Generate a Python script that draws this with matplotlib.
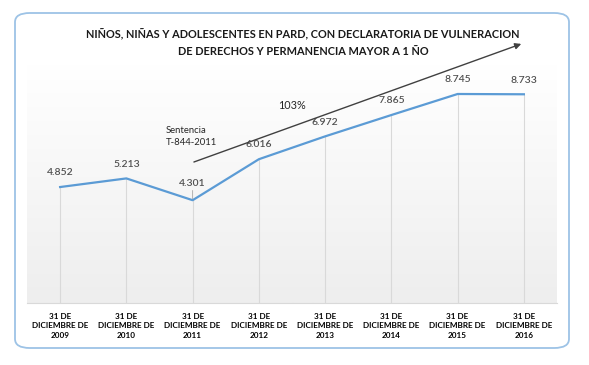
import numpy as np
import matplotlib.pyplot as plt
from matplotlib.colors import LinearSegmentedColormap
from matplotlib.patches import FancyBboxPatch

plt.rcParams['font.family'] = ['Lato', 'DejaVu Sans']

# data
years = ['2009', '2010', '2011', '2012', '2013', '2014', '2015', '2016']
values = [4852, 5213, 4301, 6016, 6972, 7865, 8745, 8733]
value_labels = ['4.852', '5.213', '4.301', '6.016', '6.972', '7.865', '8.745', '8.733']
tick_labels = ['31 DE\nDICIEMBRE DE\n' + y for y in years]

title = ('NIÑOS, NIÑAS Y ADOLESCENTES EN PARD, CON DECLARATORIA DE VULNERACION\n'
         'DE DERECHOS Y PERMANENCIA MAYOR A 1 ÑO')

fig = plt.figure(figsize=(5.89, 3.65), dpi=100)

# rounded frame around the whole chart
frame = FancyBboxPatch((15 / 589, 1 - 348 / 365), (569 - 15) / 589, (348 - 13) / 365,
                       boxstyle='round,pad=0,rounding_size=0.025',
                       transform=fig.transFigure, fill=False,
                       edgecolor='#9dc3e6', linewidth=1.3)
fig.patches.append(frame)

ax = fig.add_axes([27 / 589, 1 - 303 / 365, 530 / 589, 239 / 365])
x = np.arange(len(values))
ax.set_xlim(-0.5, len(values) - 0.5)
ax.set_ylim(0, 10000)

# soft gradient background (light gray bottom -> white top)
grad = np.linspace(0, 1, 100).reshape(-1, 1)
cmap = LinearSegmentedColormap.from_list('g', ['#eeeeee', '#ffffff'])
ax.imshow(grad, extent=(-0.5, len(values) - 0.5, 0, 10000), aspect='auto',
          cmap=cmap, zorder=0, origin='lower')

# drop lines
ax.vlines(x, 0, values, color='#d9d9d9', linewidth=0.8, zorder=1)
ax.plot(x, values, color='#5b9bd5', linewidth=1.6, zorder=3)

for i, (v, lab) in enumerate(zip(values, value_labels)):
    if i == 2:
        # label sits a bit higher with a small leader line, as in the original
        ax.annotate(lab, (i, v), xytext=(0, 9), textcoords='offset points',
                    ha='center', va='bottom', fontsize=7.5, color='#505050',
                    fontweight='semibold',
                    arrowprops=dict(arrowstyle='-', color='#a6a6a6', lw=0.6,
                                    shrinkA=0, shrinkB=1))
    else:
        ax.annotate(lab, (i, v), xytext=(0, 7), textcoords='offset points',
                    ha='center', va='bottom', fontsize=7.5, color='#505050',
                    fontweight='semibold')

for s in ['top', 'left', 'right']:
    ax.spines[s].set_visible(False)
ax.spines['bottom'].set_color('#d9d9d9')
ax.set_yticks([])
ax.set_xticks(x)
ax.set_xticklabels(tick_labels, fontsize=5.9, fontweight='bold', linespacing=1.45)
ax.tick_params(axis='x', length=0, pad=7)

# trend arrow and notes
ax.annotate('', xy=(7.0, 10880), xytext=(1.98, 5860),
            arrowprops=dict(arrowstyle='-|>', color='#404040', lw=1.0, mutation_scale=9),
            annotation_clip=False)
ax.text(1.6, 6970, 'Sentencia\nT-844-2011', fontsize=6.8, color='#262626',
        ha='left', va='center', linespacing=1.5)
ax.text(3.5, 8250, '103%', fontsize=7.8, color='#262626', ha='center', va='center')

fig.text(303 / 589, 1 - 43 / 365, title, ha='center', va='center', fontsize=7.9,
         fontweight='bold', color='#1a1a1a', linespacing=1.6)

fig.savefig('out.png', dpi=100)
